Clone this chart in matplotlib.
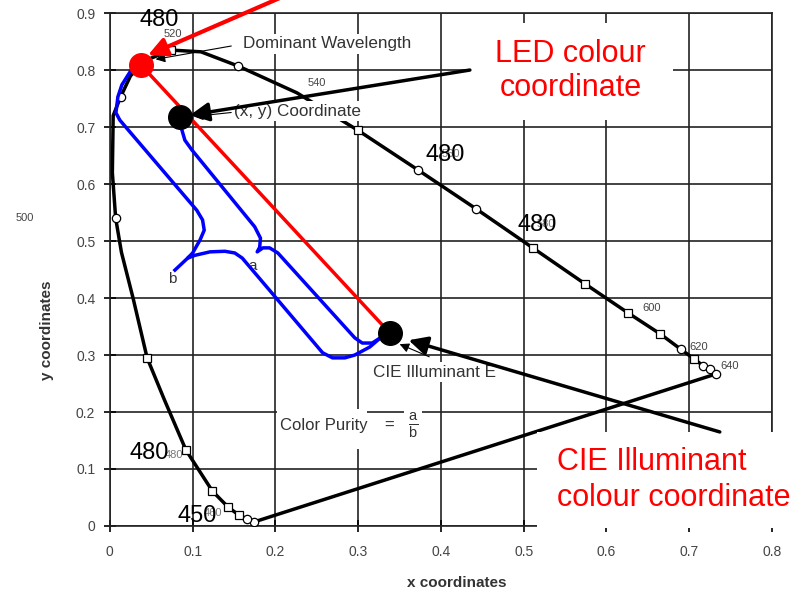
import numpy as np
import matplotlib
matplotlib.use('Agg')
import matplotlib.pyplot as plt
from matplotlib.patches import Rectangle

plt.rcParams['font.family'] = ['Liberation Sans', 'DejaVu Sans']
plt.rcParams['mathtext.fontset'] = 'custom'
plt.rcParams['mathtext.rm'] = 'Liberation Sans'
plt.rcParams['mathtext.it'] = 'Liberation Sans'

# spectral locus (from 450 nm round to the red end)
locus_x = [0.174, 0.166, 0.156, 0.143, 0.124, 0.092, 0.066, 0.045, 0.028, 0.014, 0.007,
           0.003, 0.004, 0.013, 0.025, 0.045, 0.074, 0.110, 0.155, 0.226, 0.300, 0.372,
           0.443, 0.511, 0.574, 0.626, 0.665, 0.690, 0.706, 0.717, 0.725, 0.733]
locus_y = [0.007, 0.012, 0.019, 0.033, 0.061, 0.133, 0.221, 0.295, 0.400, 0.480, 0.540,
           0.620, 0.720, 0.753, 0.790, 0.818, 0.835, 0.832, 0.807, 0.760, 0.694, 0.625,
           0.556, 0.488, 0.425, 0.374, 0.337, 0.310, 0.293, 0.281, 0.275, 0.267]

sq_x = [0.156, 0.143, 0.124, 0.092, 0.045, 0.074, 0.300, 0.511, 0.574, 0.626, 0.665, 0.706]
sq_y = [0.019, 0.033, 0.061, 0.133, 0.295, 0.835, 0.694, 0.488, 0.425, 0.374, 0.337, 0.293]
circ_x = [0.174, 0.166, 0.007, 0.013, 0.155, 0.372, 0.443, 0.690, 0.717, 0.725, 0.733]
circ_y = [0.007, 0.012, 0.540, 0.753, 0.807, 0.625, 0.556, 0.310, 0.281, 0.275, 0.267]

wl_labels = ['520', '540', '600', '620', '640', '500']
wl_x = [0.076, 0.250, 0.655, 0.712, 0.749, -0.103]
wl_y = [0.863, 0.777, 0.382, 0.314, 0.281, 0.540]

small_labels = ['480', '460', '560', '580']
small_x = [0.078, 0.125, 0.412, 0.527]
small_y = [0.125, 0.022, 0.652, 0.530]

big_labels = ['480', '480', '480', '480', '450']
big_x = [0.060, 0.405, 0.516, 0.048, 0.106]
big_y = [0.888, 0.651, 0.528, 0.128, 0.018]

# points of interest
led = (0.0375, 0.809)
xy_pt = (0.0846, 0.717)
white_pt = (0.338, 0.339)

# bracket "b" (outer) and "a" (inner)
b_x = [0.028, 0.0145, 0.0097, 0.0073, 0.0121, 0.105, 0.112, 0.114, 0.109, 0.100, 0.094,
       0.103, 0.121, 0.139, 0.151, 0.160, 0.257, 0.269, 0.284, 0.296, 0.314, 0.330]
b_y = [0.805, 0.774, 0.753, 0.725, 0.712, 0.554, 0.537, 0.519, 0.502, 0.479, 0.470,
       0.475, 0.481, 0.482, 0.479, 0.470, 0.304, 0.295, 0.295, 0.300, 0.314, 0.334]
b_tail_x = [0.094, 0.0786]
b_tail_y = [0.470, 0.449]
a_x = [0.0846, 0.087, 0.0906, 0.099, 0.175, 0.182, 0.181, 0.178,
       0.185, 0.193, 0.203, 0.296, 0.305, 0.317, 0.330]
a_y = [0.712, 0.695, 0.677, 0.660, 0.525, 0.505, 0.489, 0.481,
       0.488, 0.488, 0.479, 0.330, 0.321, 0.321, 0.333]

fig = plt.figure(figsize=(8.02, 5.93), dpi=100)
ax = fig.add_axes([0.137, 0.113, 0.8255, 0.865])
ax.set_xlim(0, 0.8)
ax.set_ylim(0, 0.9)
ax.set_xticks(np.arange(0, 0.81, 0.1))
ax.set_xticklabels(['0', '0.1', '0.2', '0.3', '0.4', '0.5', '0.6', '0.7', '0.8'])
ax.set_yticks(np.arange(0, 0.91, 0.1))
ax.set_yticklabels(['0', '0.1', '0.2', '0.3', '0.4', '0.5', '0.6', '0.7', '0.8', '0.9'])
ax.tick_params(direction='inout', length=9, width=1.2, labelsize=10, labelcolor='#444')
ax.tick_params(axis='x', pad=9)
ax.tick_params(axis='y', pad=6)
ax.grid(True, color='#222', lw=1.2)
for s in ax.spines.values():
    s.set_linewidth(1.2)
    s.set_color('#222')

ax.set_xlabel('x coordinates', fontsize=11, fontweight='bold', color='#333')
ax.set_ylabel('y coordinates', fontsize=11, fontweight='bold', color='#333')
ax.xaxis.set_label_coords(0.524, -0.097)
ax.yaxis.set_label_coords(-0.085, 0.382)

# locus + purple line
ax.plot(locus_x, locus_y, color='k', lw=2.5, zorder=3)
ax.plot([locus_x[-1], locus_x[0]], [locus_y[-1], locus_y[0]], color='k', lw=2.5, zorder=3)
ax.plot(sq_x, sq_y, 's', ms=6, mfc='white', mec='k', mew=0.9, zorder=4, ls='none')
ax.plot(circ_x, circ_y, 'o', ms=6, mfc='white', mec='k', mew=0.9, zorder=4, ls='none')

for t, x, y in zip(wl_labels, wl_x, wl_y):
    ax.text(x, y, t, fontsize=8, color='#444', ha='center', va='center', clip_on=False)
for t, x, y in zip(small_labels, small_x, small_y):
    ax.text(x, y, t, fontsize=8, color='#777', ha='center', va='center')

# brackets
ax.plot(b_x, b_y, color='#0000ff', lw=2.5, zorder=5)
ax.plot(b_tail_x, b_tail_y, color='#0000ff', lw=2.5, zorder=5)
ax.plot(a_x, a_y, color='#0000ff', lw=2.5, zorder=5)
ax.text(0.172, 0.457, 'a', fontsize=11, color='#333', ha='center', va='center')
ax.text(0.075, 0.434, 'b', fontsize=11, color='#333', ha='center', va='center')

# red line LED -> illuminant
ax.plot([led[0], white_pt[0]], [led[1], white_pt[1]], color='red', lw=2.5, zorder=5)

# dots
ax.plot(*led, 'o', ms=17, color='red', zorder=7)
ax.plot(*xy_pt, 'o', ms=17, color='k', zorder=7)
ax.plot(*white_pt, 'o', ms=17, color='k', zorder=7)

# leader notes
wbox = dict(boxstyle='square,pad=0.15', fc='white', ec='none')
ax.text(0.262, 0.846, 'Dominant Wavelength', fontsize=12.3, color='#333',
        ha='center', va='center', bbox=wbox, zorder=6)
ax.annotate('', xy=(0.052, 0.818), xytext=(0.150, 0.843),
            arrowprops=dict(arrowstyle='-|>', lw=0.8, color='k', mutation_scale=14), zorder=6)
ax.text(0.227, 0.728, '(x, y) Coordinate', fontsize=12.3, color='#333',
        ha='center', va='center', bbox=wbox, zorder=6)
ax.annotate('', xy=(0.098, 0.718), xytext=(0.150, 0.726),
            arrowprops=dict(arrowstyle='-|>', lw=0.8, color='k', mutation_scale=14), zorder=6)
ax.text(0.392, 0.270, 'CIE Illuminant E', fontsize=12.3, color='#333',
        ha='center', va='center', bbox=wbox, zorder=6)
ax.annotate('', xy=(0.347, 0.321), xytext=(0.389, 0.295),
            arrowprops=dict(arrowstyle='-|>', lw=0.8, color='k', mutation_scale=14), zorder=6)

ax.add_patch(Rectangle((0.202, 0.135), 0.109, 0.07, fc='white', ec='none', zorder=5.5))
ax.text(0.259, 0.177, 'Color Purity', fontsize=12, color='#333',
        ha='center', va='center', zorder=6)
ax.text(0.337, 0.177, '=', fontsize=12, color='#333', ha='center', va='center',
        bbox=dict(boxstyle='square,pad=0.3', fc='white', ec='none'), zorder=6)
ax.text(0.366, 0.176, r'$\frac{\mathrm{a}}{\mathrm{b}}$', fontsize=15, color='#333',
        ha='center', va='center', bbox=dict(boxstyle='square,pad=0.2', fc='white', ec='none'), zorder=6)

# big overlay numbers
for t, x, y in zip(big_labels, big_x, big_y):
    ax.text(x, y, t, fontsize=17, color='k', ha='center', va='center', zorder=8, clip_on=False)

# red callouts with white boxes
ax.add_patch(Rectangle((0.435, 0.712), 0.245, 0.17, fc='white', ec='none', zorder=8.5))
ax.text(0.557, 0.798, 'LED colour\ncoordinate', fontsize=22, color='red', ha='center', va='center',
        linespacing=1.2, zorder=9)
ax.add_patch(Rectangle((0.516, -0.003), 0.4, 0.168, fc='white', ec='none', zorder=8.5,
                       clip_on=False))
ax.text(0.540, 0.081, 'CIE Illuminant\ncolour coordinate', fontsize=22, color='red', ha='left',
        va='center', linespacing=1.25, clip_on=False, zorder=9)

# arrows
ax.annotate('', xy=(0.046, 0.826), xytext=(0.211, 0.93), annotation_clip=False,
            arrowprops=dict(arrowstyle='-|>', lw=3, color='red', mutation_scale=28, shrinkA=0, shrinkB=0), zorder=10)
ax.annotate('', xy=(0.097, 0.721), xytext=(0.435, 0.800),
            arrowprops=dict(arrowstyle='-|>', lw=2.5, color='k', mutation_scale=28, shrinkA=0, shrinkB=0), zorder=10)
ax.annotate('', xy=(0.361, 0.326), xytext=(0.737, 0.165),
            arrowprops=dict(arrowstyle='-|>', lw=2.5, color='k', mutation_scale=28, shrinkA=0, shrinkB=0), zorder=10)

fig.savefig('out.png', dpi=100)
